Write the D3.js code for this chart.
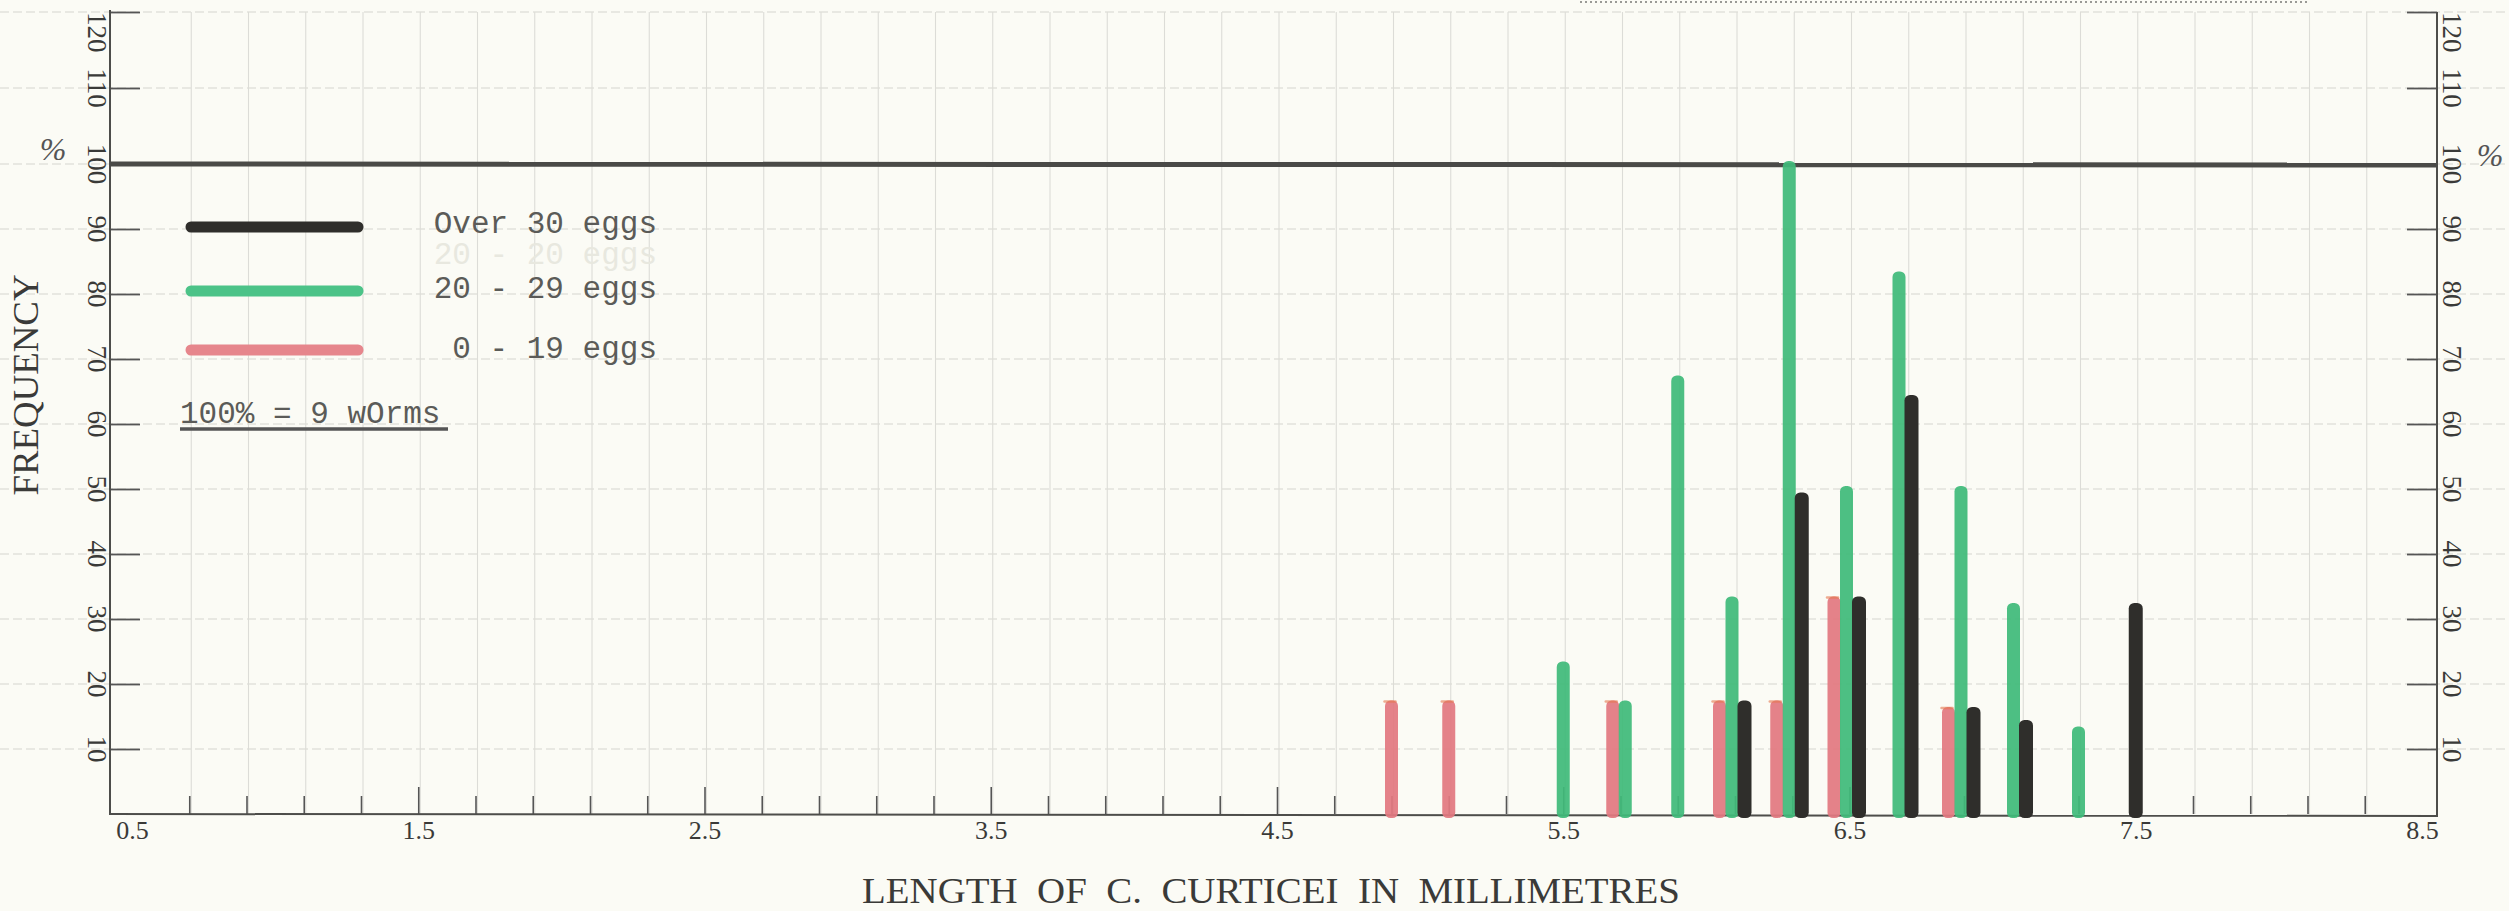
<!DOCTYPE html>
<html>
<head>
<meta charset="utf-8">
<script src="https://cdn.jsdelivr.net/npm/d3@7"></script>
<style>
  html, body { margin: 0; padding: 0; background: #fbfbf5; }
  svg { display: block; }
</style>
</head>
<body>
<svg id="chart" width="2509" height="911"></svg>
<script>
// ---------------- data ----------------
const xTickLabels = ["0.5", "1.5", "2.5", "3.5", "4.5", "5.5", "6.5", "7.5", "8.5"];
const yTickValues = [10, 20, 30, 40, 50, 60, 70, 80, 90, 100, 110, 120];

const seriesNames = ["0 - 19 eggs", "20 - 29 eggs", "Over 30 eggs"];

const lowLengths = [4.9, 5.1, 5.7, 6.1, 6.3, 6.5, 6.9];
const lowValues  = [17, 17, 17, 17, 17, 33, 16];

const midLengths = [5.5, 5.7, 5.9, 6.1, 6.3, 6.5, 6.7, 6.9, 7.1, 7.3];
const midValues  = [23, 17, 67, 33, 100, 50, 83, 50, 32, 13];

const highLengths = [6.1, 6.3, 6.5, 6.7, 6.9, 7.1, 7.5];
const highValues  = [17, 49, 33, 64, 16, 14, 32];

const xTitle = "LENGTH  OF  C.  CURTICEI  IN  MILLIMETRES";
const yTitle = "FREQUENCY";
const noteText = "100% = 9 wOrms";

// ---------------- layout ----------------
const W = 2509, H = 911;
const frameLeft = 110, frameRight = 2437, frameTop = 12;
const svg = d3.select("#chart");

const xs = d3.scaleLinear().domain([0.5, 8.5]).range([132, 2422]);
const ys = d3.scaleLinear().domain([0, 100, 120]).range([814, 164, 12]);

const colors = {
  low: "#e27880",
  mid: "#3fba7a",
  high: "#2f2e2b"
};
const legendColors = ["#2f2e2b", "#4cc388", "#e6868c"];
const serif = "'Liberation Serif', 'Times New Roman', serif";
const mono = "'Liberation Mono', 'Courier New', monospace";
const textGray = "#5b5b58";

// ---------------- paper grid ----------------
const gridG = svg.append("g");
gridG.selectAll("line.h").data(yTickValues).join("line")
  .attr("x1", 0).attr("x2", W)
  .attr("y1", d => ys(d)).attr("y2", d => ys(d))
  .attr("stroke", "#d6d6d0").attr("stroke-width", 1.2)
  .attr("stroke-dasharray", "9,4");

const minorTicks = d3.range(1, 40).map(i => +(0.5 + i * 0.2).toFixed(1));
gridG.selectAll("line.v").data(minorTicks).join("line")
  .attr("x1", d => xs(d) + 2).attr("x2", d => xs(d) + 2)
  .attr("y1", frameTop).attr("y2", ys(0))
  .attr("stroke", "#dcdcd7").attr("stroke-width", 1.1);

// dotted line at top edge
svg.append("line")
  .attr("x1", 1580).attr("x2", 2307).attr("y1", 2).attr("y2", 2)
  .attr("stroke", "#9a9a96").attr("stroke-width", 2).attr("stroke-dasharray", "2,3");

// ---------------- axes ----------------
const majorVals = xTickLabels.map(Number);
const minorOnly = minorTicks.filter(v => !majorVals.some(m => Math.abs(m - v) < 1e-6));

const xMinor = d3.axisBottom(xs).tickValues(minorOnly).tickSize(-18).tickFormat("");
const gxm = svg.append("g").attr("transform", `translate(0,${ys(0)})`).call(xMinor);
gxm.select(".domain").remove();
gxm.selectAll(".tick line").attr("stroke", "#555").attr("stroke-width", 1.6);

const xMajor = d3.axisBottom(xs).tickValues(majorVals).tickSize(-27)
  .tickFormat((d, i) => xTickLabels[i]);
const gxM = svg.append("g").attr("transform", `translate(0,${ys(0)})`).call(xMajor);
gxM.select(".domain").remove();
gxM.selectAll(".tick line")
  .attr("stroke", "#555").attr("stroke-width", 1.6)
  .attr("display", d => (d === 0.5 || d === 8.5) ? "none" : null);
gxM.selectAll(".tick text")
  .attr("y", 25).attr("dy", 0)
  .attr("font-family", serif).attr("font-size", 26).attr("fill", "#3a3a38");

// y axes (ticks only)
const yLeft = d3.axisRight(ys).tickValues(yTickValues).tickSize(30).tickFormat("");
const gyl = svg.append("g").attr("transform", `translate(${frameLeft},0)`).call(yLeft);
gyl.select(".domain").remove();
gyl.selectAll(".tick line").attr("stroke", "#555").attr("stroke-width", 1.8)
  .attr("display", d => d === 100 ? "none" : null);

const yRight = d3.axisLeft(ys).tickValues(yTickValues).tickSize(30).tickFormat("");
const gyr = svg.append("g").attr("transform", `translate(${frameRight},0)`).call(yRight);
gyr.select(".domain").remove();
gyr.selectAll(".tick line").attr("stroke", "#555").attr("stroke-width", 1.8)
  .attr("display", d => d === 100 ? "none" : null);

// y tick labels, rotated (reading downward)
[97, 2452].forEach(lx => {
  svg.append("g").selectAll("text").data(yTickValues).join("text")
    .attr("transform", d => `translate(${lx},${ys(d)}) rotate(90)`)
    .attr("text-anchor", d => d === 120 ? "start" : "middle")
    .attr("dominant-baseline", "central")
    .attr("font-family", serif).attr("font-size", 27).attr("fill", "#3a3a38")
    .text(d => d);
});

// frame lines
svg.append("line").attr("x1", frameLeft).attr("x2", frameLeft)
  .attr("y1", 10).attr("y2", ys(0) + 1).attr("stroke", "#4d4d4a").attr("stroke-width", 2);
svg.append("line").attr("x1", frameRight).attr("x2", frameRight)
  .attr("y1", 12).attr("y2", ys(0) + 3).attr("stroke", "#4d4d4a").attr("stroke-width", 2);
svg.append("line").attr("x1", frameLeft).attr("x2", frameRight)
  .attr("y1", ys(0)).attr("y2", ys(0) + 2).attr("stroke", "#4d4d4a").attr("stroke-width", 2);

// 100% line
svg.append("line").attr("x1", frameLeft).attr("x2", frameRight)
  .attr("y1", ys(100)).attr("y2", ys(100) + 1)
  .attr("stroke", "#4a4a47").attr("stroke-width", 5);

// % signs
svg.append("text").attr("x", 53).attr("y", 160).attr("text-anchor", "middle")
  .attr("font-family", serif).attr("font-style", "italic").attr("font-size", 32)
  .attr("fill", "#555").text("%");
svg.append("text").attr("x", 2490).attr("y", 166).attr("text-anchor", "middle")
  .attr("font-family", serif).attr("font-style", "italic").attr("font-size", 32)
  .attr("fill", "#555").text("%");

// axis titles
svg.append("text")
  .attr("transform", `translate(38,385) rotate(-90)`)
  .attr("text-anchor", "middle")
  .attr("font-family", serif).attr("font-size", 35).attr("fill", "#3a3a38")
  .attr("textLength", 221).attr("lengthAdjust", "spacingAndGlyphs")
  .text(yTitle);

svg.append("text")
  .attr("x", 862).attr("y", 903)
  .attr("font-family", serif).attr("font-size", 35).attr("fill", "#3a3a38")
  .attr("textLength", 818).attr("lengthAdjust", "spacingAndGlyphs")
  .style("white-space", "pre")
  .text(xTitle);

// ---------------- bars ----------------
const series = [
  { key: "low", lengths: lowLengths, values: lowValues, width: 13 },
  { key: "mid", lengths: midLengths, values: midValues, width: 13 },
  { key: "high", lengths: highLengths, values: highValues, width: 14 }
];

const allLengths = Array.from(new Set(series.flatMap(s => s.lengths))).sort((a, b) => a - b);
const present = new Map(allLengths.map(l => [l, series.filter(s => s.lengths.includes(l)).map(s => s.key)]));

const bars = [];
series.forEach(s => {
  s.lengths.forEach((l, i) => {
    const keys = present.get(l);
    const n = keys.length;
    const idx = keys.indexOf(s.key);
    const center = -(n - 1) * 1.5;
    const off = center + (idx - (n - 1) / 2) * 12.5;
    bars.push({ key: s.key, length: l, value: s.values[i], width: s.width, off });
  });
});

const order = { low: 0, mid: 1, high: 2 };
svg.append("g").selectAll("rect").data(bars.sort((a, b) => order[a.key] - order[b.key])).join("rect")
  .attr("x", d => xs(d.length) + d.off - d.width / 2)
  .attr("y", d => ys(d.value) - 3)
  .attr("width", d => d.width)
  .attr("height", d => ys(0) - ys(d.value) + 7)
  .attr("rx", 5.5)
  .attr("fill", d => colors[d.key])
  .attr("fill-opacity", d => d.key === "high" ? 1 : 0.93);

// small orange ink tips on red bars
svg.append("g").selectAll("line").data(bars.filter(b => b.key === "low")).join("line")
  .attr("x1", d => xs(d.length) + d.off - 7).attr("x2", d => xs(d.length) + d.off + 4)
  .attr("y1", d => ys(d.value) - 2).attr("y2", d => ys(d.value) - 2)
  .attr("stroke", "#e6784f").attr("stroke-width", 2.5).attr("stroke-linecap", "round")
  .attr("opacity", 0.6);

// ---------------- legend ----------------
const legendItems = [
  { name: seriesNames[2], color: legendColors[0], y: 227, ty: 233 },
  { name: seriesNames[1], color: legendColors[1], y: 291, ty: 298 },
  { name: seriesNames[0], color: legendColors[2], y: 350, ty: 358 }
];
const lg = svg.append("g");
lg.selectAll("line").data(legendItems).join("line")
  .attr("x1", 191).attr("x2", 358)
  .attr("y1", d => d.y).attr("y2", d => d.y)
  .attr("stroke", d => d.color).attr("stroke-width", 11).attr("stroke-linecap", "round");
lg.selectAll("text").data(legendItems).join("text")
  .attr("x", 657).attr("y", d => d.ty).attr("text-anchor", "end")
  .attr("font-family", mono).attr("font-size", 31).attr("fill", textGray)
  .style("white-space", "pre")
  .text(d => d.name);

// faint erased text
svg.append("text").attr("x", 657).attr("y", 264).attr("text-anchor", "end")
  .attr("font-family", mono).attr("font-size", 31).attr("fill", "#e8e8df")
  .style("white-space", "pre").text("20 - 20 eggs");

// note
svg.append("text").attr("x", 180).attr("y", 423)
  .attr("font-family", mono).attr("font-size", 31).attr("fill", textGray)
  .style("white-space", "pre").text(noteText);
svg.append("line").attr("x1", 180).attr("x2", 448).attr("y1", 429).attr("y2", 429)
  .attr("stroke", "#555").attr("stroke-width", 3.5);
</script>
</body>
</html>
